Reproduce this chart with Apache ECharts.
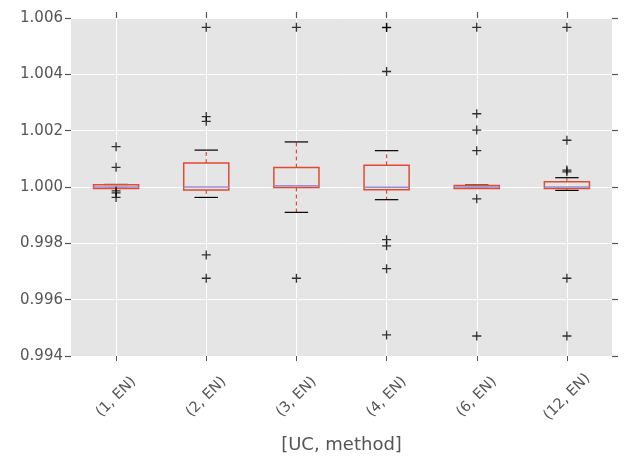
<!DOCTYPE html>
<html><head><meta charset="utf-8">
<script src="https://cdn.jsdelivr.net/npm/echarts@6/dist/echarts.min.js"></script>
<style>html,body{margin:0;padding:0;background:#fff}#c{width:625px;height:456px}</style>
</head><body><div id="c"></div>
<script>
const categories = ['(1, EN)', '(2, EN)', '(3, EN)', '(4, EN)', '(6, EN)', '(12, EN)'];
const whiskerLow  = [0.99995, 0.99963, 0.99910, 0.99955, 0.99995, 0.99988];
const q1          = [0.99995, 0.99989, 0.99998, 0.99990, 0.99995, 0.99995];
const median      = [1.00000, 1.00000, 1.00004, 0.99999, 1.00000, 1.00000];
const q3          = [1.00008, 1.00085, 1.00069, 1.00077, 1.00005, 1.00019];
const whiskerHigh = [1.00009, 1.00131, 1.00160, 1.00129, 1.00007, 1.00033];
const outliers = [
  [1.00143, 1.00070, 0.99986, 0.99979, 0.99963],
  [1.00567, 1.00250, 1.00233, 0.99759, 0.99676],
  [1.00567, 0.99676],
  [1.00567, 1.00566, 1.00410, 0.99813, 0.99791, 0.99710, 0.99475],
  [1.00567, 1.00260, 1.00202, 1.00129, 0.99958, 0.99471],
  [1.00567, 1.00166, 1.00060, 1.00054, 0.99676, 0.99471]
];
const yTicks = ['0.994', '0.996', '0.998', '1.000', '1.002', '1.004', '1.006'];

const boxData = categories.map((c, i) => [i, whiskerLow[i], q1[i], median[i], q3[i], whiskerHigh[i]]);
const flierData = [];
outliers.forEach((arr, i) => arr.forEach(v => flierData.push([i, v])));

const RED = '#E24A33', MED = '#988ED5';
function renderBox(params, api) {
  const i = api.value(0);
  const band = api.size([1, 0])[0];
  const halfBox = band * 0.25, halfCap = band * 0.13;
  const x = api.coord([i, 0])[0];
  const yWL = api.coord([i, api.value(1)])[1];
  const yQ1 = api.coord([i, api.value(2)])[1];
  const yMed = api.coord([i, api.value(3)])[1];
  const yQ3 = api.coord([i, api.value(4)])[1];
  const yWH = api.coord([i, api.value(5)])[1];
  const whiskerStyle = {stroke: RED, lineWidth: 1.2, lineDash: [4, 3]};
  return {
    type: 'group',
    children: [
      {type: 'line', shape: {x1: x, y1: yQ3, x2: x, y2: yWH}, style: whiskerStyle},
      {type: 'line', shape: {x1: x, y1: yQ1, x2: x, y2: yWL}, style: whiskerStyle},
      {type: 'line', shape: {x1: x - halfCap, y1: yWH, x2: x + halfCap, y2: yWH}, style: {stroke: '#000', lineWidth: 1.2}},
      {type: 'line', shape: {x1: x - halfCap, y1: yWL, x2: x + halfCap, y2: yWL}, style: {stroke: '#000', lineWidth: 1.2}},
      {type: 'rect', shape: {x: x - halfBox, y: yQ3, width: halfBox * 2, height: yQ1 - yQ3}, style: {fill: 'none', stroke: RED, lineWidth: 1.5}},
      {type: 'line', shape: {x1: x - halfBox, y1: yMed, x2: x + halfBox, y2: yMed}, style: {stroke: MED, lineWidth: 1.5}}
    ]
  };
}

const chart = echarts.init(document.getElementById('c'));
const txt = '#555555';
chart.setOption({
  animation: false,
  backgroundColor: '#ffffff',
  grid: {left: 71, right: 13, top: 18, bottom: 100, show: true, backgroundColor: '#E5E5E5', borderWidth: 0,
    containLabel: false, outerBoundsMode: 'none'},
  xAxis: [{
    type: 'category', data: categories, boundaryGap: true,
    name: '[UC, method]', nameLocation: 'middle', nameGap: 80,
    nameTextStyle: {color: txt, fontSize: 18, fontFamily: 'DejaVu Sans'},
    axisLine: {show: false},
    axisTick: {show: true, interval: 0, alignWithLabel: true, length: 5, lineStyle: {color: txt}},
    axisLabel: {interval: 0, rotate: 45, align: 'center', verticalAlign: 'middle', color: txt, fontSize: 14.5, fontFamily: 'DejaVu Sans', margin: 41},
    splitLine: {show: true, interval: 0, alignWithLabel: true, lineStyle: {color: '#ffffff', width: 1}}
  }, {
    type: 'category', data: categories, position: 'top', boundaryGap: true,
    axisLine: {show: false},
    axisTick: {show: true, interval: 0, alignWithLabel: true, length: 6, lineStyle: {color: txt, width: 1.2}},
    axisLabel: {show: true, interval: 0, color: 'rgba(0,0,0,0)', fontSize: 6},
    splitLine: {show: false}
  }],
  yAxis: [{
    type: 'value', min: 0.994, max: 1.006, interval: 0.002,
    axisLine: {show: false},
    axisTick: {show: true, length: 6, lineStyle: {color: txt, width: 1.2}},
    axisLabel: {color: txt, fontSize: 15, fontFamily: 'DejaVu Sans', margin: 8,
      formatter: v => v.toFixed(3)},
    splitLine: {show: true, lineStyle: {color: '#ffffff', width: 1}}
  }, {
    type: 'value', min: 0.994, max: 1.006, interval: 0.002, position: 'right',
    axisLine: {show: false},
    axisTick: {show: true, length: 6, lineStyle: {color: txt, width: 1.2}},
    axisLabel: {show: false}, splitLine: {show: false}
  }],
  series: [{
    type: 'custom', renderItem: renderBox, data: boxData, z: 3,
    xAxisIndex: 0, yAxisIndex: 0,
    encode: {x: 0, y: [1, 2, 3, 4, 5]}
  }, {
    type: 'scatter', data: flierData, z: 4,
    xAxisIndex: 1, yAxisIndex: 1,
    symbol: 'path://M5,0 L5,10 M0,5 L10,5', symbolSize: 9,
    itemStyle: {color: 'none', borderColor: '#000', borderWidth: 1.3}
  }]
});
</script></body></html>
